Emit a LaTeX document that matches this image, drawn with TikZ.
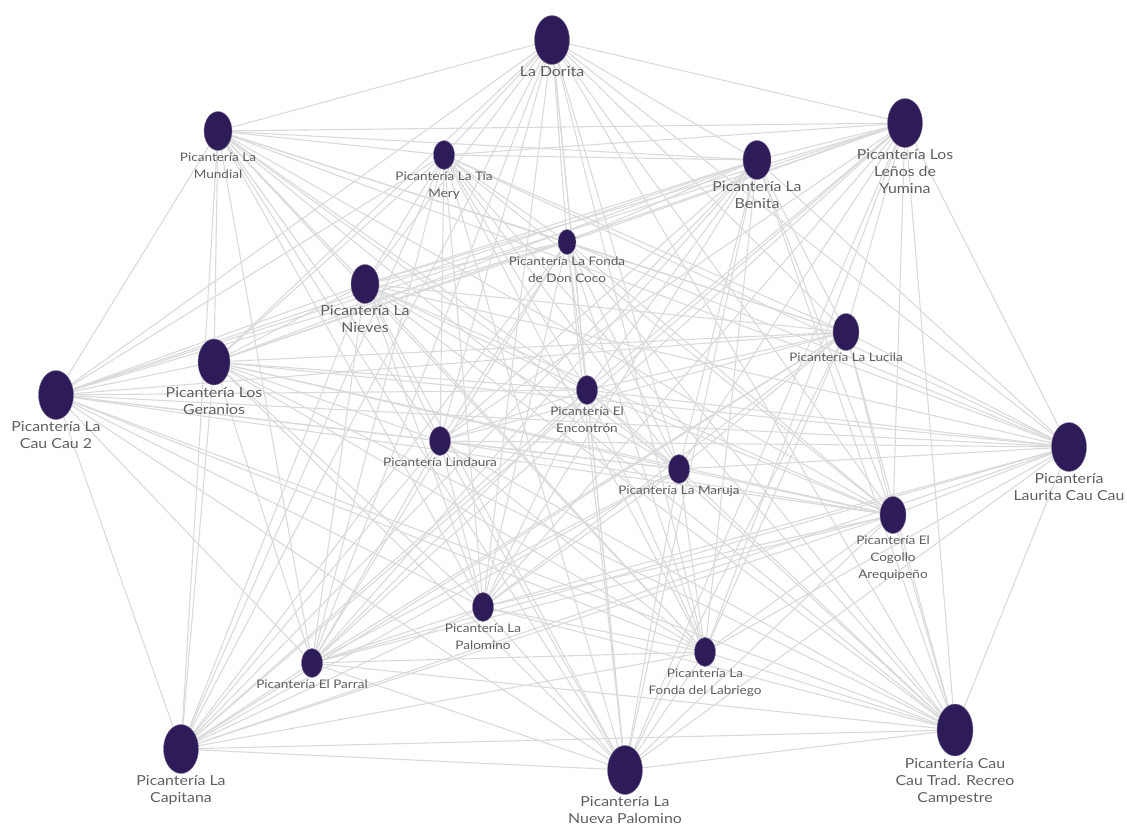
\documentclass[tikz,border=0pt]{standalone}
\usepackage{fontspec}
\setmainfont{Lato}[FakeStretch=1.15]
\usetikzlibrary{shapes.geometric,backgrounds}
\definecolor{nodecol}{RGB}{46,28,88}
\definecolor{edgecol}{RGB}{218,218,218}
\definecolor{txtcol}{RGB}{95,95,95}
\tikzset{
  pnode/.style={ellipse,fill=nodecol,draw=nodecol!60!white,line width=0.4pt,inner sep=0pt},
  big/.style={pnode,minimum width=35pt,minimum height=49pt},
  mid/.style={pnode,minimum width=28pt,minimum height=39pt},
  sml/.style={pnode,minimum width=21pt,minimum height=29pt},
  lbl/.style={anchor=north,align=center,text=txtcol,inner sep=0pt,yshift=-2pt},
  lblL/.style={lbl,font=\fontsize{13.8}{17}\selectfont},
  lblS/.style={lbl,font=\fontsize{11.8}{17}\selectfont},
  edge/.style={draw=edgecol,line width=1.1pt}
}
\begin{document}
\begin{tikzpicture}[x=1pt,y=-1pt]
\useasboundingbox (0,0) rectangle (1127,835);
% nodes
\node[big] (dor) at (552,40) {};
\node[mid] (mun) at (218,131) {};
\node[sml] (tia) at (444,155) {};
\node[mid] (ben) at (757,160) {};
\node[big] (len) at (905,123) {};
\node[sml,minimum width=18pt,minimum height=25pt] (coc) at (567,242) {};
\node[mid] (nie) at (365,284) {};
\node[big,minimum width=32pt,minimum height=46pt] (ger) at (214,362) {};
\node[big] (cc2) at (56,395) {};
\node[mid,minimum width=26pt,minimum height=37pt] (luc) at (846,332) {};
\node[sml] (enc) at (587,390) {};
\node[sml] (lin) at (440,441) {};
\node[sml] (mar) at (679,469) {};
\node[big] (lau) at (1069,447) {};
\node[mid,minimum width=26pt,minimum height=37pt] (cog) at (893,515) {};
\node[sml] (pal) at (483,607) {};
\node[sml] (par) at (312,663) {};
\node[sml] (lab) at (705,652) {};
\node[big] (cap) at (181,749) {};
\node[big] (nue) at (625,770) {};
\node[big,minimum width=36pt,minimum height=52pt] (cam) at (955,730) {};
% labels
\node[lblL] (tdor) at (dor.south) {La Dorita};
\node[lblS] (tmun) at (mun.south) {Picantería La\\Mundial};
\node[lblS] (ttia) at (tia.south) {Picantería La Tía\\Mery};
\node[lblL] (tben) at (ben.south) {Picantería La\\Benita};
\node[lblL] (tlen) at (len.south) {Picantería Los\\Leños de\\Yumina};
\node[lblS] (tcoc) at (coc.south) {Picantería La Fonda\\de Don Coco};
\node[lblL] (tnie) at (nie.south) {Picantería La\\Nieves};
\node[lblL] (tger) at (ger.south) {Picantería Los\\Geranios};
\node[lblL] (tcc2) at (cc2.south) {Picantería La\\Cau Cau 2};
\node[lblS] (tluc) at (luc.south) {Picantería La Lucila};
\node[lblS] (tenc) at (enc.south) {Picantería El\\Encontrón};
\node[lblS] (tlin) at (lin.south) {Picantería Lindaura};
\node[lblS] (tmar) at (mar.south) {Picantería La Maruja};
\node[lblL] (tlau) at (lau.south) {Picantería\\Laurita Cau Cau};
\node[lblS] (tcog) at (cog.south) {Picantería El\\Cogollo\\Arequipeño};
\node[lblS] (tpal) at (pal.south) {Picantería La\\Palomino};
\node[lblS] (tpar) at (par.south) {Picantería El Parral};
\node[lblS] (tlab) at (lab.south) {Picantería La\\Fonda del Labriego};
\node[lblL] (tcap) at (cap.south) {Picantería La\\Capitana};
\node[lblL] (tnue) at (nue.south) {Picantería La\\Nueva Palomino};
\node[lblL] (tcam) at (cam.south) {Picantería Cau\\Cau Trad. Recreo\\Campestre};
% edges
\begin{pgfonlayer}{background}
\foreach \a [count=\i] in {dor,mun,tia,ben,len,coc,nie,ger,cc2,luc,enc,lin,mar,lau,cog,pal,par,lab,cap,nue,cam}{
  \foreach \b [count=\j] in {dor,mun,tia,ben,len,coc,nie,ger,cc2,luc,enc,lin,mar,lau,cog,pal,par,lab,cap,nue,cam}{
    \ifnum\j>\i \draw[edge] (\a.center) -- (\b.center);\fi
  }
}
\end{pgfonlayer}
\end{tikzpicture}
\end{document}
